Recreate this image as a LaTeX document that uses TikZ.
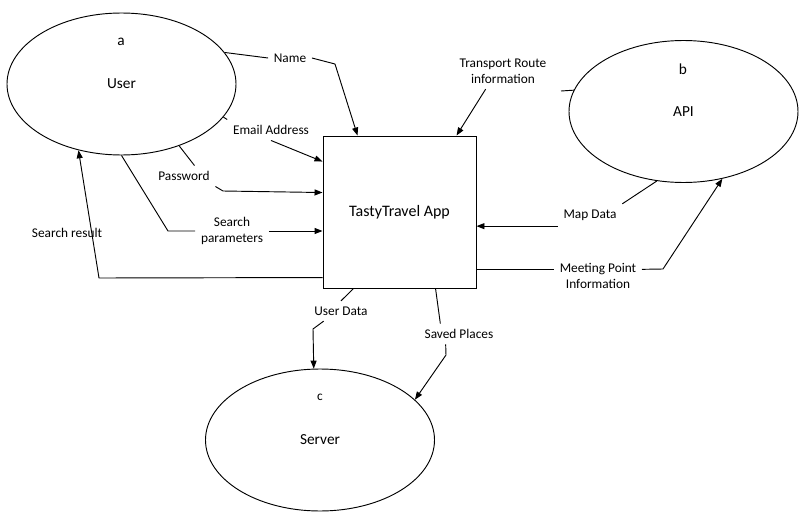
\documentclass[tikz,border=0pt]{standalone}
\usepackage{fontspec}
\setmainfont{Carlito}
\usetikzlibrary{shapes.geometric,arrows.meta,positioning}

\begin{document}
\begin{tikzpicture}[
        x=0.75pt, y=-0.75pt,
        every path/.style={line width=0.7pt},
        ent/.style={draw, ellipse, minimum width=171.75pt, minimum height=106.5pt, inner sep=0pt, font=\fontsize{11.5}{14}\selectfont},
        proc/.style={draw, minimum width=114.75pt, minimum height=114pt, inner sep=0pt, font=\fontsize{12}{14}\selectfont},
        lbl/.style={align=center, inner sep=4pt, font=\fontsize{10}{12}\selectfont},
        tag/.style={inner sep=0pt, font=\fontsize{11.5}{14}\selectfont},
        ar/.style={-{Triangle[length=6pt, width=4.5pt]}},
    ]
    \useasboundingbox (0,0) rectangle (808,521);

    % entities and process
    \node[ent](user) at (121.5,84) {User};
    \node[ent](api) at (683.5,111.5) {API};
    \node[ent](server) at (320,440) {Server};
    \node[proc](app) at (399.5,212) {TastyTravel App};

    \node[tag](a) at (121,42) {a};
    \node[tag](b) at (683,69) {b};
    \node[tag, font=\fontsize{10}{12}\selectfont](c) at (320,397) {c};

    % flow labels
    \node[lbl](name) at (290,58) {Name};
    \node[lbl](email) at (271,130) {Email Address};
    \node[lbl](password) at (184,176) {Password};
    \node[lbl](search) at (232,231) {Search\\parameters};
    \node[lbl, fill=white, inner sep=1pt](result) at (67,233) {Search result};
    \node[lbl](transport) at (503,71) {Transport Route\\information};
    \node[lbl](mapdata) at (590,215) {Map Data};
    \node[lbl](meeting) at (598,276) {Meeting Point\\Information};
    \node[lbl](userdata) at (341,311) {User Data};
    \node[lbl](saved) at (459,334) {Saved Places};
    \coordinate (stub) at (561,91);

    % user -> app
    \draw (user.17) -- (name.west);
    \draw[ar] (name.east) -- (335,64) -- ([shift={(35,0)}]app.north west);
    \draw (user.-18) -- (email.north west);
    \draw[ar] (email.south) -- ([shift={(0,26)}]app.north west);
    \draw (user.-47) -- (password.45);
    \draw[ar] (password.south east) -- (223,191) -- ([shift={(0,57)}]app.north west);
    \draw (user.south) -- (168,231) -- (search.west);
    \draw[ar] (search.east) -- (search.east -| app.west);

    % app -> user
    \draw[ar] ([shift={(0,142)}]app.north west) -- (99,278) -- (user.-123);

    % api <-> app
    \draw[ar] ([xshift=-13pt]transport.south) -- ([shift={(134,0)}]app.north west);
    \draw (api.169) -- (stub);
    \draw (api.-111) -- (mapdata.north east);
    \draw[ar] (mapdata.south west) -- (mapdata.south west -| app.east);
    \draw ([yshift=5pt]meeting.west -| app.east) -- ([yshift=5pt]meeting.west);
    \draw[ar] ([yshift=5pt]meeting.east) -- (663,269) -- (api.-60);

    % app -> server
    \draw ([shift={(31,0)}]app.south west) -- (userdata.north);
    \draw[ar] ([xshift=-13pt]userdata.south) -- (313,329) -- (server.95);
    \draw ([shift={(113,0)}]app.south west) -- ([xshift=-14pt]saved.north);
    \draw[ar] ([xshift=-10pt]saved.south) -- (446,355) -- (server.23);
\end{tikzpicture}
\end{document}
